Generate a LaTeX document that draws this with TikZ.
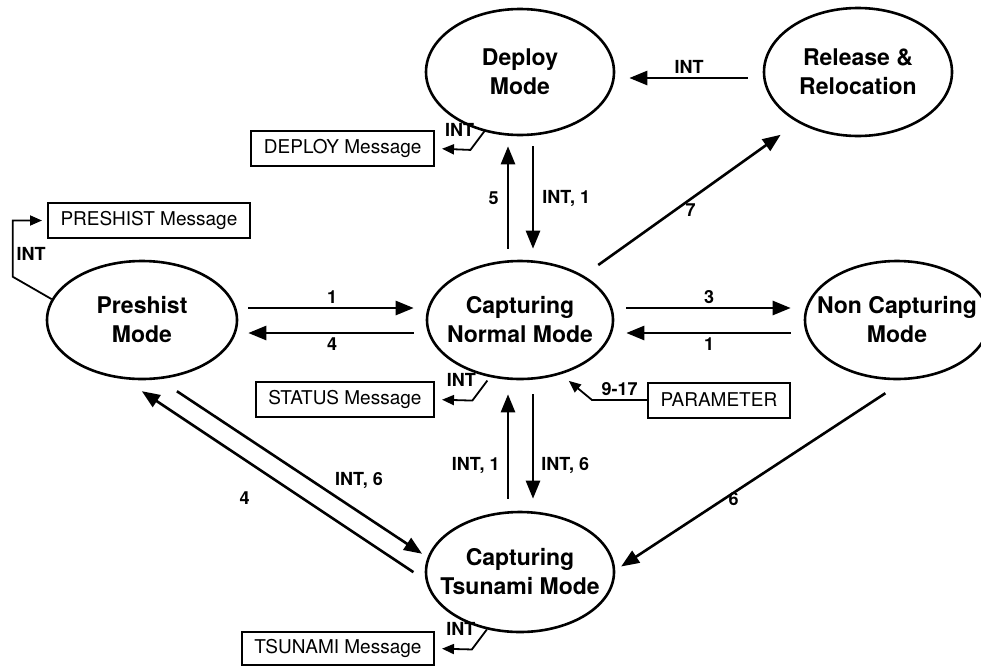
\documentclass[tikz,border=0pt]{standalone}
\usepackage{fontspec}
\setmainfont{TeX Gyre Heros}
\usetikzlibrary{arrows.meta, shapes.geometric}

\begin{document}
\begin{tikzpicture}[
  x=1pt, y=-1pt,
  state/.style={
    ellipse,
    draw=black,
    line width=2.6pt,
    inner sep=0pt,
    minimum width=186pt,
    minimum height=118pt
  },
  statetext/.style={
    align=center,
    font=\fontsize{23}{29}\selectfont\bfseries
  },
  msgbox/.style={
    rectangle,
    draw=black,
    line width=2pt,
    inner xsep=12.5pt,
    minimum height=35pt,
    font=\fontsize{19}{22}\selectfont
  },
  trans/.style={-{Triangle[length=18pt,width=14pt]}, line width=2.6pt},
  intarrow/.style={-{Triangle[length=12pt,width=10pt]}, line width=1.8pt},
  lbl/.style={font=\fontsize{18}{21}\selectfont\bfseries, inner sep=3pt}
]
\useasboundingbox (0,0) rectangle (981,667);

% modes
\node[state, minimum width=188pt, minimum height=126pt,
  label={[statetext]center:Deploy\\Mode}] (deploy) at (520,72) {};
\node[state, minimum width=188pt, minimum height=128pt,
  label={[statetext]center:Release \&\\Relocation}] (rel) at (858,72) {};
\node[state, minimum width=190pt,
  label={[statetext]center:Preshist\\Mode}] (pre) at (142,320) {};
\node[state,
  label={[statetext]center:Capturing\\Normal Mode}] (norm) at (520,320) {};
\node[state, minimum width=184pt,
  label={[statetext]center:Non Capturing\\Mode}] (noncap) at (897,320) {};
\node[state, minimum width=188pt, minimum height=120pt,
  label={[statetext]center:Capturing\\Tsunami Mode}] (tsu) at (520,572) {};

% messages
\node[msgbox, anchor=east] (deploymsg) at (435,148.5) {DEPLOY Message};
\node[msgbox, anchor=east] (statusmsg) at (435,399.5) {STATUS Message};
\node[msgbox, anchor=east, minimum height=33pt] (tsunamimsg) at (435,648.5) {TSUNAMI Message};
\node[msgbox, anchor=west] (preshistmsg) at (47,220.5) {PRESHIST Message};
\node[msgbox, anchor=west] (param) at (647,400) {PARAMETER};

% transitions
\draw[trans, shorten <=10pt, shorten >=12pt] ([yshift=12pt]pre.east) -- node[lbl, above]{1} ([yshift=12pt]norm.west);
\draw[trans, shorten <=12pt, shorten >=10pt] ([yshift=-13pt]norm.west) -- node[lbl, below]{4} ([yshift=-13pt]pre.east);
\draw[trans, shorten <=12pt, shorten >=13pt] ([yshift=12pt]norm.east) -- node[lbl, above]{3} ([yshift=12pt]noncap.west);
\draw[trans, shorten <=13pt, shorten >=12pt] ([yshift=-13pt]noncap.west) -- node[lbl, below]{1} ([yshift=-13pt]norm.east);

\draw[trans, shorten <=11pt, shorten >=10pt] ([xshift=-12pt]norm.north) -- node[lbl, left=5pt]{5} ([xshift=-12pt]deploy.south);
\draw[trans, shorten <=10pt, shorten >=11pt] ([xshift=13pt]deploy.south) -- node[lbl, right=5pt]{INT, 1} ([xshift=13pt]norm.north);
\draw[trans, shorten <=12pt, shorten >=14pt] ([xshift=-12pt]tsu.north) -- node[lbl, pos=0.35, left=4pt]{INT, 1} ([xshift=-12pt]norm.south);
\draw[trans, shorten <=14pt, shorten >=12pt] ([xshift=13pt]norm.south) -- node[lbl, pos=0.65, right=4pt]{INT, 6} ([xshift=13pt]tsu.north);

\draw[trans, shorten <=15pt, shorten >=14pt] ([yshift=-6pt]rel.west) -- node[lbl, above]{INT} ([yshift=-6pt]deploy.east);
\draw[trans, shorten <=18pt, shorten >=21pt] (norm.35.5) -- node[lbl, below]{7} (rel.220.9);

\draw[trans, shorten <=21.5pt, shorten >=6.5pt] (pre.286.4) -- node[lbl, pos=0.64, above right]{INT, 6} (tsu.171.7);
\draw[trans, shorten <=14.6pt, shorten >=21.5pt] (tsu.185.6) -- node[lbl, pos=0.6, below=28pt]{4} (pre.253.8);
\draw[trans, shorten <=24pt, shorten >=7pt] (noncap.278) -- node[lbl, pos=0.55, below left=3pt]{6} (tsu.1.8);

% interrupts and parameters
\draw[intarrow, shorten >=7pt] ([yshift=2pt]deploy.240) -- node[lbl, above left]{INT} ++(-15,20) -- (deploymsg.east);
\draw[intarrow, shorten >=7pt] ([yshift=-4pt]norm.240) -- node[lbl, above left]{INT} ++(-15,20) -- (statusmsg.east);
\draw[intarrow, shorten >=7pt] (tsu.240) -- node[lbl, above left]{INT} ++(-15,20) -- (tsunamimsg.east);
\draw[intarrow, shorten >=5pt] (pre.167) -- ++(-38.9,-22.4) |- node[lbl, pos=0.2, right]{INT} (preshistmsg.west);
\draw[intarrow, shorten >=10.3pt] (param.west) -- node[lbl, above]{9-17} ++(-55,0) -- (norm.307.1);

\end{tikzpicture}
\end{document}
